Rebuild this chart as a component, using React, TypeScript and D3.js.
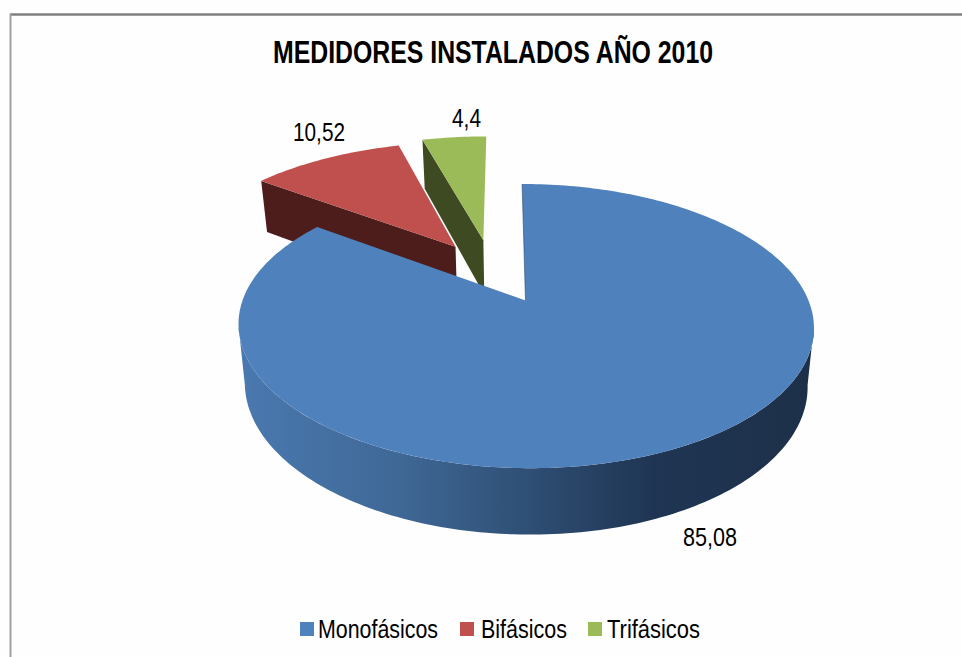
import React from "react";
import * as d3 from "d3";

const title = "MEDIDORES INSTALADOS AÑO 2010";
const categories = ["Monofásicos", "Bifásicos", "Trifásicos"];
const values = [85.08, 10.52, 4.4];
const valueLabels = ["85,08", "10,52", "4,4"];

const colors = ["#4f81bd", "#c0504d", "#9bbb59"];
const sideColors = ["url(#blueSide)", "#4d1d1c", "#3d4a22"];
// slice pull-out in pie-plane units [sideways, away from viewer]
const explode: [number, number][] = [[0, 0], [-0.26, 0.42], [-0.155, 0.475]];
const rimScale = [1, 1.033, 1.045];

const W = 962, H = 657;
const cx = 525.5, cy = 300.5;
const R = 283, B = 137.5, PERSP = 0.18, SKEW = -4;
const DEPTH = 57.5, BOTTOM_SCALE = 0.978;

function project(u: number, v: number, bottom: boolean): [number, number] {
  const w = 1 + PERSP * v;
  const dx = (R * u + SKEW * v) / w;
  const dy = (-B * v) / w;
  if (!bottom) return [cx + dx, cy + dy];
  return [cx + dx * BOTTOM_SCALE, cy + dy * BOTTOM_SCALE + DEPTH / w];
}

const pie = d3.pie<number>().sort(null).startAngle(0).endAngle(2 * Math.PI);
const arcs = pie(values);
const line = d3.line<[number, number]>();

function rimPoint(a: number, i: number, bottom: boolean) {
  const off = explode[i], k = rimScale[i];
  return project(k * Math.sin(a) + off[0], k * Math.cos(a) + off[1], bottom);
}
function arcAngles(a0: number, a1: number) {
  const n = Math.max(2, Math.ceil(Math.abs(a1 - a0) / 0.02));
  return d3.range(n + 1).map((i) => a0 + ((a1 - a0) * i) / n);
}
function topPath(i: number) {
  const a = arcs[i], off = explode[i];
  const pts = arcAngles(a.startAngle, a.endAngle).map((t) => rimPoint(t, i, false));
  pts.push(project(off[0], off[1], false));
  return line(pts) + "Z";
}
// visible cut face of a pulled-out slice: its start-angle edge
function cutFace(i: number, angle: number) {
  const off = explode[i];
  const pts: [number, number][] = [
    rimPoint(angle, i, false),
    project(off[0], off[1], false),
    project(off[0], off[1], true),
    rimPoint(angle, i, true),
  ];
  return line(pts) + "Z";
}
function blueRimSide() {
  const t0 = Math.acos(-PERSP);
  const t1 = 2 * Math.PI - t0;
  const top = arcAngles(t0, t1).map((t) => rimPoint(t, 0, false));
  const bot = arcAngles(t1, t0).map((t) => rimPoint(t, 0, true));
  return line([...top, ...bot]) + "Z";
}

const fontFamily = "'Liberation Sans', Arial, sans-serif";

const legendSwatchX = [300, 460, 588];
const legendTextX = [318, 481, 607];
const legendTextW = [120, 86, 93];
const labelPos: [number, number, number][] = [
  [683, 546, 54],
  [293, 141, 52],
  [452, 126.5, 29],
];

export default function App() {
  return (
    <svg
      width={W}
      height={H}
      viewBox={`0 0 ${W} ${H}`}
      style={{ position: "absolute", left: 0, top: 0, background: "#ffffff" }}
    >
      <defs>
        <linearGradient id="blueSide" gradientUnits="userSpaceOnUse" x1={238} x2={815} y1={0} y2={0}>
          <stop offset="0" stopColor="#4a79b0" />
          <stop offset="0.28" stopColor="#3f6896" />
          <stop offset="0.5" stopColor="#2f4f75" />
          <stop offset="0.72" stopColor="#1f3553" />
          <stop offset="1" stopColor="#1d3049" />
        </linearGradient>
      </defs>
      <rect x={0} y={0} width={W} height={H} fill="#fefefe" />
      <line x1={10} x2={W} y1={14.5} y2={14.5} stroke="#7f7f7f" strokeWidth={2.5} />
      <line x1={10.5} x2={10.5} y1={14} y2={H} stroke="#a0a0a0" strokeWidth={2} />

      <text
        x={273}
        y={63}
        fontFamily={fontFamily}
        fontWeight="bold"
        fontSize={31}
        textLength={440}
        lengthAdjust="spacingAndGlyphs"
        fill="#000"
      >
        {title}
      </text>

      {/* Trifásicos */}
      <path d={cutFace(2, arcs[2].startAngle)} fill={sideColors[2]} />
      <path d={topPath(2)} fill={colors[2]} />
      {/* Bifásicos */}
      <path d={cutFace(1, arcs[1].startAngle)} fill={sideColors[1]} />
      <path d={topPath(1)} fill={colors[1]} />
      {/* Monofásicos */}
      <path d={blueRimSide()} fill={sideColors[0]} />
      <path d={topPath(0)} fill={colors[0]} />
      <path
        d={line([rimPoint(0, 0, false), project(0, 0, false)]) as string}
        stroke="#2a4668"
        strokeWidth={1}
        strokeOpacity={0.6}
        fill="none"
      />

      {valueLabels.map((t, i) => (
        <text
          key={t}
          x={labelPos[i][0]}
          y={labelPos[i][1]}
          fontFamily={fontFamily}
          fontSize={26}
          textLength={labelPos[i][2]}
          lengthAdjust="spacingAndGlyphs"
          fill="#000"
        >
          {t}
        </text>
      ))}

      {categories.map((c, i) => (
        <g key={c}>
          <rect x={legendSwatchX[i]} y={622} width={14} height={14} fill={colors[i]} />
          <text
            x={legendTextX[i]}
            y={638}
            fontFamily={fontFamily}
            fontSize={26}
            textLength={legendTextW[i]}
            lengthAdjust="spacingAndGlyphs"
            fill="#000"
          >
            {c}
          </text>
        </g>
      ))}
    </svg>
  );
}
